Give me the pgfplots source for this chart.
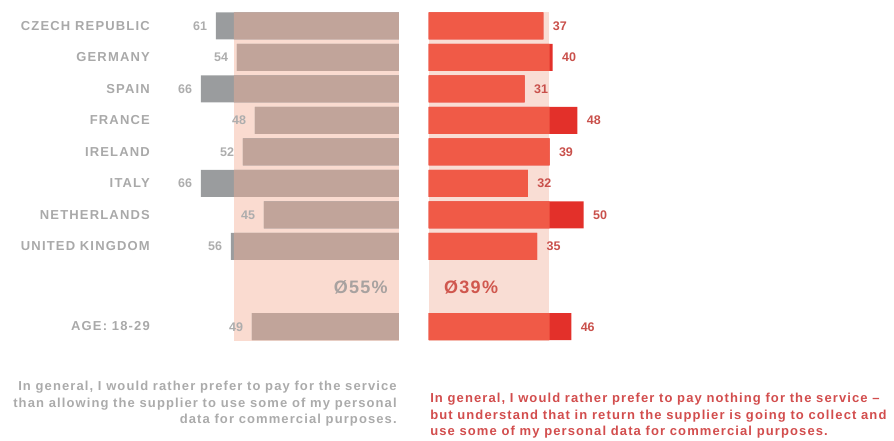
\documentclass[border=0pt]{standalone}
\usepackage{fontspec}
\setmainfont{Liberation Sans}
\usepackage{pgfplots}
\pgfplotsset{compat=1.18}
\usepackage{pgfplotstable}
\definecolor{bandL}{HTML}{FADBD0}
\definecolor{bandR}{HTML}{F9DDD4}
\definecolor{tanbar}{HTML}{C1A49A}
\definecolor{graybar}{HTML}{9A9C9E}
\definecolor{redbar}{HTML}{F05A47}
\definecolor{darkred}{HTML}{E3302A}
\definecolor{leftlab}{HTML}{ADADAD}
\definecolor{rightlab}{HTML}{C9504B}
\definecolor{country}{HTML}{A9A9A9}
\definecolor{avgL}{HTML}{A8A2A0}
\definecolor{avgR}{HTML}{D0574E}
\definecolor{lefttext}{HTML}{ABABAB}
\definecolor{righttext}{HTML}{D24D4D}

% y = row centre (pixels from top); L/R = values; Lin/Rin = part inside the average band
\pgfplotstableread{
y     L   Lin  R   Rin
25.8  61  55   37  37
57.3  54  54   40  39
88.8  66  55   31  31
120.3 48  48   48  39
151.8 52  52   39  39
183.3 66  55   32  32
214.8 45  45   50  39
246.3 56  55   35  35
326.5 49  49   46  39
}\data

\begin{document}
\begin{tikzpicture}
\path[use as bounding box] (0,0) rectangle (894pt,441pt);
\begin{axis}[
  at={(150pt,0pt)}, anchor=south west,
  scale only axis, width=249pt, height=441pt,
  xmin=-83, xmax=0, ymin=0, ymax=441, y dir=reverse,
  clip=false,
  /pgf/number format/assume math mode=true,
  axis line style={draw=none}, major tick length=0pt,
  xtick=\empty,
  ytick={25.8,57.3,88.8,120.3,151.8,183.3,214.8,246.3,326.5},
  yticklabels={CZECH REPUBLIC,GERMANY,SPAIN,FRANCE,IRELAND,ITALY,NETHERLANDS,UNITED KINGDOM,AGE: 18-29},
  yticklabel style={anchor=east, inner sep=0pt, text=country,
    font=\bfseries\fontsize{13}{13}\selectfont\addfontfeatures{LetterSpace=9}},
]
\addplot[fill=bandL, draw=none, forget plot] coordinates {(-55,12) (0,12) (0,341) (-55,341)} --cycle;
\addplot[xbar, bar shift=0pt, bar width=27pt, fill=graybar, draw=none]
  table[x expr=-\thisrow{L}, y=y] {\data};
\addplot[xbar, bar shift=0pt, bar width=27pt, fill=tanbar, draw=none]
  table[x expr=-\thisrow{Lin}, y=y] {\data};
% value labels
\addplot[xbar, bar shift=0pt, bar width=0pt, draw=none, fill=none,
  point meta=explicit, nodes near coords,
  every node near coord/.append style={text=leftlab, inner sep=0pt,
    font=\bfseries\fontsize{12.5}{12.5}\selectfont}]
  table[x expr=-\thisrow{L}-5.3, y expr=\thisrow{y}+5, meta=L] {\data};
\node[anchor=east, inner sep=0pt, text=avgL, font=\bfseries\fontsize{18}{18}\selectfont\addfontfeatures{LetterSpace=7}]
  at (axis cs:-3.7,287) {Ø55\%};
\node[anchor=north east, align=right, inner sep=0pt, text=lefttext,
  font=\bfseries\fontsize{13}{16.5}\selectfont\addfontfeatures{LetterSpace=8.5}]
  at (axis cs:-0.7,381) {In general, I would rather prefer to pay for the service\\than allowing the supplier to use some of my personal\\data for commercial purposes.};
\end{axis}
\begin{axis}[
  at={(428.5pt,0pt)}, anchor=south west,
  scale only axis, width=465.5pt, height=441pt,
  xmin=0, xmax=150, ymin=0, ymax=441, y dir=reverse,
  clip=false,
  /pgf/number format/assume math mode=true,
  axis line style={draw=none}, major tick length=0pt,
  xtick=\empty, ytick=\empty,
]
\addplot[fill=bandR, draw=none, forget plot] coordinates {(0,12) (38.7,12) (38.7,341) (0,341)} --cycle;
\addplot[xbar, bar shift=0pt, bar width=27pt, fill=darkred, draw=none]
  table[x=R, y=y] {\data};
\addplot[xbar, bar shift=0pt, bar width=27pt, fill=redbar, draw=none]
  table[x=Rin, y=y] {\data};
% value labels
\addplot[xbar, bar shift=0pt, bar width=0pt, draw=none, fill=none,
  point meta=explicit, nodes near coords,
  every node near coord/.append style={text=rightlab, inner sep=0pt,
    font=\bfseries\fontsize{12.5}{12.5}\selectfont}]
  table[x expr=\thisrow{R}+5.3, y expr=\thisrow{y}+5, meta=R] {\data};
\node[anchor=west, inner sep=0pt, text=avgR, font=\bfseries\fontsize{18}{18}\selectfont\addfontfeatures{LetterSpace=7}]
  at (axis cs:5,287) {Ø39\%};
\node[anchor=north west, align=left, inner sep=0pt, text=righttext,
  font=\bfseries\fontsize{13}{16.5}\selectfont\addfontfeatures{LetterSpace=8.5}]
  at (axis cs:0.5,393) {In general, I would rather prefer to pay nothing for the service --\\but understand that in return the supplier is going to collect and\\use some of my personal data for commercial purposes.};
\end{axis}
\end{tikzpicture}
\end{document}
